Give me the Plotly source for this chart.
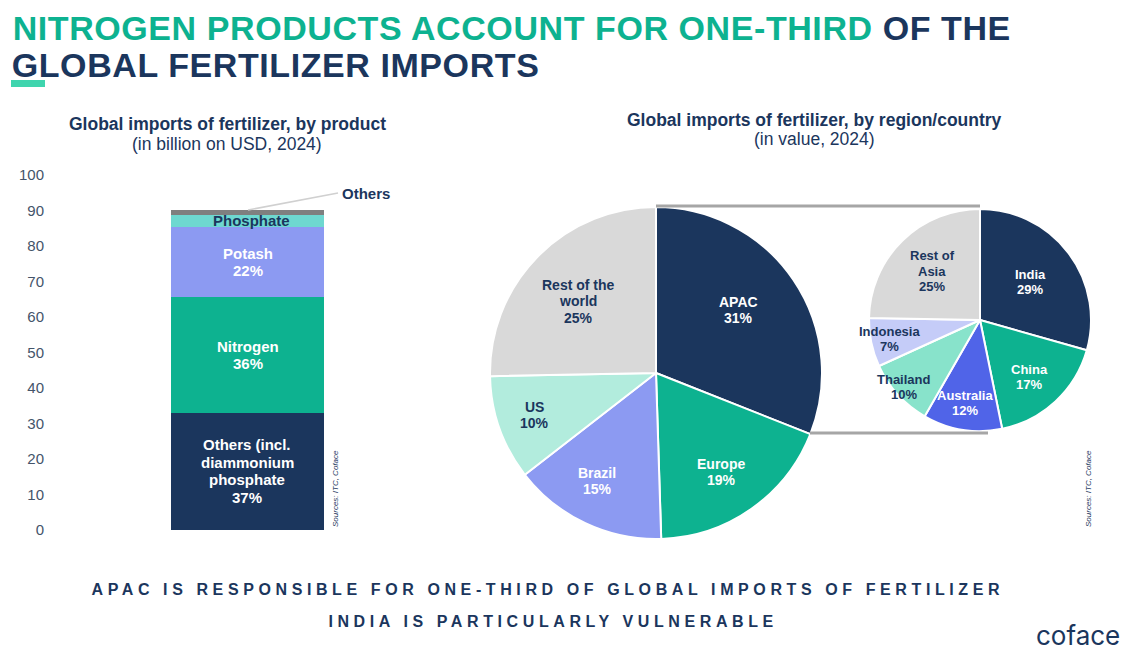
import plotly.graph_objects as go

W, H = 1128, 653
NAVY = "#1B365D"
GREEN = "#0DB290"
FONT = "Liberation Sans"

# stacked bar, billion USD
products = ["Others", "Nitrogen", "Potash", "Phosphate", "Others"]
product_values = [33, 32.6, 19.8, 3.3, 1.4]
product_colors = [NAVY, GREEN, "#8C9AF2", "#6ED8D0", "#7F7F7F"]
y_ticks = [0, 10, 20, 30, 40, 50, 60, 70, 80, 90, 100]

regions = ["APAC", "Europe", "Brazil", "US", "Rest of the<br>world"]
region_values = [31, 18.5, 15, 10.2, 25.3]
region_shares = [31, 19, 15, 10, 25]
region_colors = [NAVY, GREEN, "#8C9AF2", "#B2ECDD", "#D9D9D9"]

countries = ["India", "China", "Australia", "Thailand", "Indonesia", "Rest of<br>Asia"]
country_values = [29.4, 17.4, 11.5, 9.9, 7.1, 24.7]
country_shares = [29, 17, 12, 10, 7, 25]
country_colors = [NAVY, GREEN, "#5064E8", "#88E3CB", "#C5CCF8", "#D9D9D9"]


def px(x):
    return x / W


def py(y):
    return 1 - y / H


fig = go.Figure()

for name, val, col in zip(products, product_values, product_colors):
    fig.add_trace(go.Bar(x=["2024"], y=[val], name=name, marker=dict(color=col, line_width=0), hoverinfo="skip"))

# the pie radius is half the domain, so these give the two circles
fig.add_trace(go.Pie(
    labels=regions, values=region_values, sort=False, direction="clockwise", rotation=0,
    marker=dict(colors=region_colors, line=dict(color="white", width=2)),
    textinfo="none", domain=dict(x=[px(490), px(822)], y=[py(539), py(207)]),
))
fig.add_trace(go.Pie(
    labels=countries, values=country_values, sort=False, direction="clockwise", rotation=0,
    marker=dict(colors=country_colors, line=dict(color="white", width=2)),
    textinfo="none", domain=dict(x=[px(869), px(1091)], y=[py(431), py(209)]),
))


def note(text, x, y, size=13, color=NAVY, bold=True, anchor="center", family=FONT):
    fig.add_annotation(
        text=text, x=px(x), y=py(y), xref="paper", yref="paper", showarrow=False,
        xanchor=anchor, yanchor="middle",
        font=dict(family=family, size=size, color=color, weight="bold" if bold else "normal"),
    )


# plotly's line height is too loose for these, so each line is its own note
def stacked(text, x, y, spacing, size, color):
    lines = text.split("<br>")
    for i, line in enumerate(lines):
        note(line, x, y + (i - (len(lines) - 1) / 2) * spacing, size=size, color=color)


# bar labels
stacked("Others (incl.<br>diammonium<br>phosphate<br>37%", 247, 471, 17.5, 15, "white")
stacked("Nitrogen<br>36%", 248, 355, 17.5, 15, "white")
stacked("Potash<br>22%", 248, 262, 17.5, 15, "white")
note("Phosphate", 251, 220, size=15)
note("Others", 366, 194, size=15)

# pie labels
region_pos = [(738, 310), (721, 472), (597, 481), (534, 415), (578, 301)]
for name, val, (x, y), col in zip(regions, region_shares, region_pos, ["white", "white", "white", NAVY, NAVY]):
    stacked(f"{name}<br>{val}%", x, y, 16.5, 14, col)
country_pos = [(1030, 282), (1029, 377), (965, 403), (904, 387), (889, 339), (932, 271)]
for name, val, (x, y), col in zip(countries, country_shares, country_pos,
                                  ["white", "white", "white", NAVY, NAVY, NAVY]):
    stacked(f"{name}<br>{val}%", x, y, 15, 13, col)

# title, x is offset because the letter spacing grows from the middle of the text
fig.add_annotation(
    text=f"<span style='color:{GREEN}'>NITROGEN PRODUCTS ACCOUNT FOR ONE-THIRD</span> OF THE",
    x=px(23.5), y=py(28), xref="paper", yref="paper", showarrow=False, xanchor="left", yanchor="middle",
    font=dict(family=FONT, size=34, color=NAVY, weight="bold"),
)
note("GLOBAL FERTILIZER IMPORTS", 16.5, 65, size=34, anchor="left")

note("Global imports of fertilizer, by product", 227, 124, size=17.5)
note("(in billion on USD, 2024)", 227, 144, size=17.5, bold=False)
note("Global imports of fertilizer, by region/country", 814, 120, size=17.5)
note("(in value, 2024)", 814, 139, size=17.5, bold=False)

for x in (335, 1088):
    fig.add_annotation(
        text="<i>Sources: ITC, Coface</i>", x=px(x), y=py(489), xref="paper", yref="paper", showarrow=False,
        xanchor="center", yanchor="middle", textangle=-90, font=dict(family=FONT, size=8, color=NAVY),
    )

note("APAC IS RESPONSIBLE FOR ONE-THIRD OF GLOBAL IMPORTS OF FERTILIZER", 548, 589, size=16)
note("INDIA IS PARTICULARLY VULNERABLE", 553, 621, size=16)
note("coface", 1078, 635, size=26, bold=False, family="Inter")

line_grey = dict(color="#A6A6A6", width=3)
shapes = [
    dict(type="rect", x0=px(11), x1=px(45), y0=py(87), y1=py(80), fillcolor="#3FD5AE", line_width=0),
    dict(type="line", x0=px(656), x1=px(980), y0=py(206), y1=py(206), line=line_grey),
    dict(type="line", x0=px(810), x1=px(988), y0=py(433), y1=py(433), line=line_grey),
    dict(type="line", x0=px(248), x1=px(338), y0=py(210), y1=py(193), line=dict(color="#D0D0D0", width=1.5)),
]
for s in shapes:
    fig.add_shape(xref="paper", yref="paper", **s)

fig.update_layout(
    width=W, height=H, margin=dict(l=0, r=0, t=0, b=0), barmode="stack", bargap=0.592,
    showlegend=False, paper_bgcolor="white", plot_bgcolor="white",
    font=dict(family=FONT, color=NAVY),
    xaxis=dict(domain=[px(60), px(435)], visible=False, automargin=False),
    yaxis=dict(domain=[py(530), py(175)], range=[0, 100], tickvals=y_ticks, showgrid=False,
               zeroline=False, showline=False, ticks="", ticklabelstandoff=15, automargin=False,
               tickfont=dict(family=FONT, size=15, color="#44546A")),
)

# plotly has no letter spacing setting, and the page keeps the default body margin otherwise
post = """
document.body.style.margin = '0';
document.querySelectorAll('.annotation-text').forEach(function (t) {
  var s = t.textContent;
  if (s.startsWith('APAC IS') || s.startsWith('INDIA IS')) { t.style.letterSpacing = '4.6px'; }
  if (s.startsWith('NITROGEN') || s.startsWith('GLOBAL FERT')) { t.style.letterSpacing = '0.58px'; }
});
"""
fig.write_html("out.html", post_script=post, config=dict(displayModeBar=False))
